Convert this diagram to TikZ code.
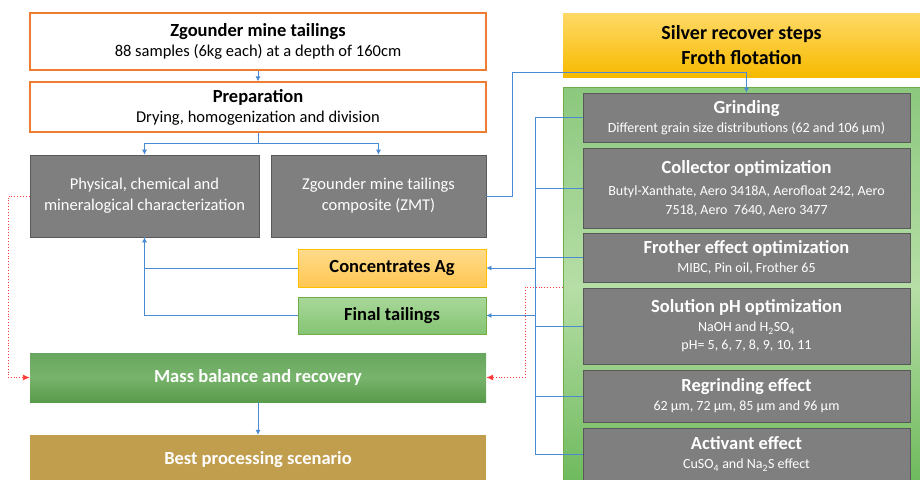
\documentclass[tikz,border=0pt]{standalone}
\usepackage{fontspec}
\setmainfont{Carlito}
\usepackage{tikz}
\usetikzlibrary{calc, positioning, arrows.meta}
\usepackage{xcolor}
\definecolor{edgeO}{RGB}{237, 125, 49}
\definecolor{greyF}{RGB}{127, 127, 127}
\definecolor{greyD}{RGB}{89, 89, 89}
\definecolor{flowB}{RGB}{74, 138, 212}
\definecolor{lossR}{RGB}{255, 60, 60}
\definecolor{goldT}{RGB}{255, 217, 102}
\definecolor{goldB}{RGB}{246, 186, 0}
\definecolor{leafT}{RGB}{140, 200, 126}
\definecolor{leafM}{RGB}{182, 222, 166}
\definecolor{leafB}{RGB}{108, 184, 90}
\definecolor{leafE}{RGB}{112, 173, 71}
\definecolor{concT}{RGB}{255, 219, 140}
\definecolor{concB}{RGB}{255, 199, 82}
\definecolor{concE}{RGB}{255, 192, 0}
\definecolor{tailT}{RGB}{169, 216, 154}
\definecolor{tailB}{RGB}{132, 196, 116}
\definecolor{massT}{RGB}{104, 165, 94}
\definecolor{massM}{RGB}{120, 180, 108}
\definecolor{massB}{RGB}{88, 155, 74}
\definecolor{bestF}{RGB}{193, 157, 78}
\newcommand{\ttl}{\fontsize{18.5}{22}\selectfont\bfseries}
\newcommand{\sub}{\fontsize{16.5}{21}\selectfont}
\newcommand{\sml}{\fontsize{14}{19}\selectfont}

\begin{document}
\begin{tikzpicture}[x=1pt, y=-1pt,
  box/.style={draw=edgeO, line width=1.3pt, fill=white, align=center, inner sep=0pt,
    font=\fontsize{16.5}{20}\selectfont},
  greybox/.style={draw=greyD, line width=0.6pt, fill=greyF, text=white, align=center, inner sep=0pt,
    font=\sml},
  flow/.style={draw=flowB, line width=0.8pt},
  loss/.style={draw=lossR, dotted, line width=0.9pt},
  tip/.style={-{Latex[length=5pt, width=5pt]}}]
  \useasboundingbox (0,0) rectangle (920,479);

  % left column
  \node[box, minimum width=456pt, minimum height=57pt] (tail1) at (258,41.5)
    {{\ttl Zgounder mine tailings}\\88 samples (6kg each) at a depth of 160cm};
  \node[box, minimum width=456pt, minimum height=50pt] (prep) at (258,107)
    {{\ttl Preparation}\\Drying, homogenization and division};
  \node[greybox, minimum width=229pt, minimum height=82pt, font=\sub] (phys) at (144.5,196)
    {Physical, chemical and\\mineralogical characterization};
  \node[greybox, minimum width=215pt, minimum height=82pt, font=\sub] (zmt) at (378.5,196)
    {Zgounder mine tailings\\composite (ZMT)};
  \node[draw=concE, line width=0.8pt, top color=concT, bottom color=concB,
    minimum width=188pt, minimum height=38pt, font=\ttl] (conc) at (392,268) {Concentrates Ag};
  \node[draw=leafE, line width=0.8pt, top color=tailT, bottom color=tailB,
    minimum width=188pt, minimum height=37pt, font=\ttl] (tail) at (392,315.5) {Final tailings};
  \node[top color=massT, bottom color=massB, middle color=massM, text=white,
    minimum width=456pt, minimum height=49pt, font=\ttl] (mass) at (258,377.5) {Mass balance and recovery};
  \node[fill=bestF, text=white, minimum width=456pt, minimum height=50pt, font=\ttl]
    (best) at (258,460) {Best processing scenario};

  % right column
  \node[top color=goldT, bottom color=goldB, minimum width=357pt, minimum height=64pt,
    align=center, font=\fontsize{20}{25}\selectfont\bfseries] (head) at (741.5,45)
    {Silver recover steps\\Froth flotation};
  \node[draw=leafE, line width=0.8pt, top color=leafT, bottom color=leafB, middle color=leafM,
    minimum width=362pt, minimum height=402pt] (flot) at (744,288) {};
  \node[greybox, minimum width=327pt, minimum height=49pt] (grind) at (746.5,117.5)
    {{\ttl Grinding}\\Different grain size distributions (62 and 106 µm)};
  \node[greybox, minimum width=327pt, minimum height=80pt] (coll) at (746.5,188)
    {{\ttl Collector optimization}\\[3pt]Butyl-Xanthate, Aero 3418A, Aerofloat 242, Aero\\7518, Aero~~7640, Aero 3477};
  \node[greybox, minimum width=327pt, minimum height=49pt] (froth) at (746.5,257.5)
    {{\ttl Frother effect optimization}\\MIBC, Pin oil, Frother 65};
  \node[greybox, minimum width=327pt, minimum height=76pt] (ph) at (746.5,326)
    {{\ttl Solution pH optimization}\\NaOH and H\textsubscript{2}SO\textsubscript{4}\\[-1pt]pH= 5, 6, 7, 8, 9, 10, 11};
  \node[greybox, minimum width=327pt, minimum height=52pt] (regr) at (746.5,396)
    {{\ttl Regrinding effect}\\62 µm, 72 µm, 85 µm and 96 µm};
  \node[greybox, minimum width=327pt, minimum height=52pt] (activ) at (746.5,454)
    {{\ttl Activant effect}\\CuSO\textsubscript{4} and Na\textsubscript{2}S effect};

  % connectors
  \coordinate (split) at (258,143);
  \coordinate (zmtup) at (512,72);
  \coordinate (bustop) at (535,117.5);
  \coordinate (busbot) at (535,454);
  \coordinate (lossL) at (8,196);
  \coordinate (lossR) at (525,287);

  \draw[flow, tip] (tail1.south) -- (prep.north);
  \draw[flow] (prep.south) -- (split);
  \draw[flow, tip] (split) -| (phys.north);
  \draw[flow, tip] (split) -| (zmt.north);
  \draw[flow, tip] (zmt.east) -| (zmtup) -| (grind.north);
  \draw[flow] (bustop) -- (busbot);
  \foreach \b in {grind, coll, froth, ph, regr, activ}
    \draw[flow] (\b.west) -- (\b.west -| bustop);
  \draw[flow, tip] (conc.east -| bustop) -- (conc.east);
  \draw[flow, tip] (tail.east -| bustop) -- (tail.east);
  \draw[flow, tip] (conc.west) -| (phys.south);
  \draw[flow] (tail.west) -| (phys.south);
  \draw[flow, tip] (mass.south) -- (best.north);
  \draw[loss, -{Latex[length=7pt, width=6pt]}] (phys.west) -- (lossL) |- (mass.west);
  \draw[loss, -{Latex[length=7pt, width=6pt]}] (lossR -| flot.west) -- (lossR) |- (mass.east);
\end{tikzpicture}
\end{document}
